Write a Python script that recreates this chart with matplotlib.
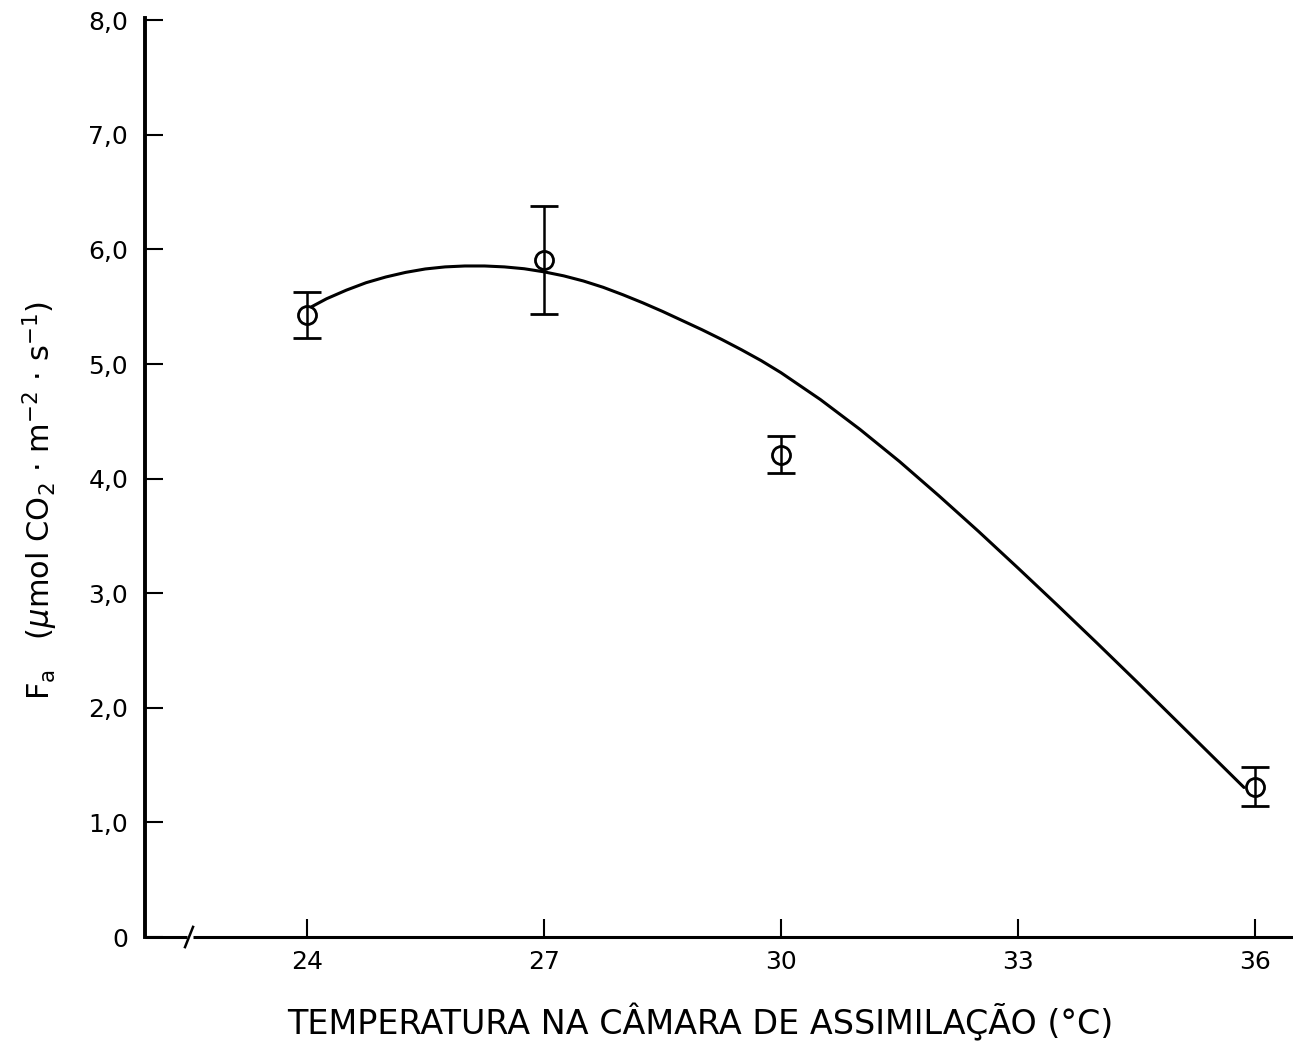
import matplotlib
matplotlib.use("Agg")
import matplotlib.pyplot as plt

# measured points (mean +/- sd)
temps = [24, 27, 30, 36]
fa = [5.43, 5.91, 4.21, 1.31]
fa_sd = [0.20, 0.47, 0.16, 0.17]

# fitted curve
curve_t = [24.06, 24.25, 24.5, 24.75, 25.0, 25.25, 25.5, 25.75, 26.0, 26.25,
           26.5, 26.75, 27.0, 27.25, 27.5, 27.75, 28.0, 28.25, 28.5, 28.75,
           29.0, 29.25, 29.5, 29.75, 30.0, 30.5, 31.0, 31.5, 32.0, 32.5,
           33.0, 33.5, 34.0, 34.5, 35.0, 35.5, 35.86]
curve_fa = [5.50, 5.57, 5.645, 5.71, 5.76, 5.80, 5.83, 5.848, 5.856, 5.856,
            5.848, 5.832, 5.805, 5.77, 5.725, 5.67, 5.605, 5.535, 5.46, 5.38,
            5.30, 5.215, 5.125, 5.03, 4.925, 4.69, 4.43, 4.15, 3.85, 3.54,
            3.22, 2.895, 2.565, 2.23, 1.89, 1.55, 1.305]

x_ticks = [24, 27, 30, 33, 36]
y_ticks = [0, 1, 2, 3, 4, 5, 6, 7, 8]
y_ticklabels = ["0", "1,0", "2,0", "3,0", "4,0", "5,0", "6,0", "7,0", "8,0"]

plt.rcParams["font.family"] = ["DejaVu Sans"]
plt.rcParams["mathtext.default"] = "regular"

fig = plt.figure(figsize=(12.93, 10.41), dpi=100)
ax = fig.add_axes([0.112, 0.0999, 0.888, 0.8828])

ax.plot(curve_t, curve_fa, color="black", lw=2.2, solid_capstyle="round",
        solid_joinstyle="round")
ax.errorbar(temps, fa, yerr=fa_sd, fmt="o", ms=13, mfc="none", mec="black",
            mew=2.0, ecolor="black", elinewidth=1.8, capsize=10, capthick=2.0)

ax.set_xlim(21.95, 36.48)
ax.set_ylim(0, 8.02)

ax.set_xticks(x_ticks)
ax.set_xticklabels([str(t) for t in x_ticks])
ax.set_yticks(y_ticks)
ax.set_yticklabels(y_ticklabels)
ax.tick_params(axis="y", direction="in", length=13, width=1.5, pad=12, labelsize=18)
ax.tick_params(axis="x", direction="in", length=13, width=1.5, pad=9, labelsize=18)

for side in ["top", "right", "bottom"]:
    ax.spines[side].set_visible(False)
ax.spines["left"].set_linewidth(2.8)

# broken x axis
ax.plot([0, 0.037], [0, 0], transform=ax.transAxes, color="black", lw=2.2,
        clip_on=False, solid_capstyle="butt")
ax.plot([0.042, 1], [0, 0], transform=ax.transAxes, color="black", lw=2.2,
        clip_on=False, solid_capstyle="butt")
ax.plot([0.035, 0.042], [-0.011, 0.011], transform=ax.transAxes, color="black",
        lw=1.8, clip_on=False)

ax.set_xlabel("TEMPERATURA NA CÂMARA DE ASSIMILAÇÃO (°C)", fontsize=24)
ax.xaxis.set_label_coords(0.484, -0.0925)
ax.xaxis.label.set_va("center")
ax.set_ylabel(r"F$_a$   ($\mathit{\mu}$mol CO$_2$ · m$^{-2}$ · s$^{-1}$)", fontsize=22)
ax.yaxis.set_label_coords(-0.0915, 0.4755)
ax.yaxis.label.set_va("center")

fig.savefig("out.png", dpi=100)
